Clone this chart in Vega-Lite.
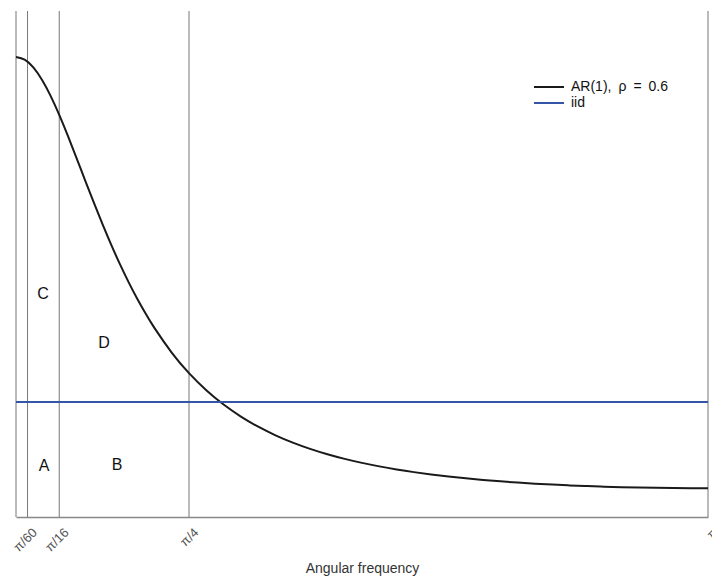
{
  "$schema": "https://vega.github.io/schema/vega-lite/v6.json",
  "width": 692,
  "height": 506,
  "autosize": {"type": "none"},
  "padding": {"left": 16, "top": 11, "right": 4, "bottom": 62},
  "background": "white",
  "config": {
    "view": {"stroke": null},
    "font": "Liberation Sans"
  },
  "datasets": {
    "curve": [
      {"w": 0.0, "v": 6.25, "s": "AR(1), ρ = 0.6"},
      {"w": 0.03927, "v": 6.2141, "s": "AR(1), ρ = 0.6"},
      {"w": 0.07854, "v": 6.1087, "s": "AR(1), ρ = 0.6"},
      {"w": 0.1178, "v": 5.9411, "s": "AR(1), ρ = 0.6"},
      {"w": 0.15708, "v": 5.7217, "s": "AR(1), ρ = 0.6"},
      {"w": 0.19635, "v": 5.4627, "s": "AR(1), ρ = 0.6"},
      {"w": 0.23562, "v": 5.1771, "s": "AR(1), ρ = 0.6"},
      {"w": 0.27489, "v": 4.8768, "s": "AR(1), ρ = 0.6"},
      {"w": 0.31416, "v": 4.5718, "s": "AR(1), ρ = 0.6"},
      {"w": 0.35343, "v": 4.2704, "s": "AR(1), ρ = 0.6"},
      {"w": 0.3927, "v": 3.9786, "s": "AR(1), ρ = 0.6"},
      {"w": 0.43197, "v": 3.7006, "s": "AR(1), ρ = 0.6"},
      {"w": 0.47124, "v": 3.4389, "s": "AR(1), ρ = 0.6"},
      {"w": 0.51051, "v": 3.1949, "s": "AR(1), ρ = 0.6"},
      {"w": 0.54978, "v": 2.9688, "s": "AR(1), ρ = 0.6"},
      {"w": 0.58905, "v": 2.7606, "s": "AR(1), ρ = 0.6"},
      {"w": 0.62832, "v": 2.5695, "s": "AR(1), ρ = 0.6"},
      {"w": 0.70686, "v": 2.2346, "s": "AR(1), ρ = 0.6"},
      {"w": 0.7854, "v": 1.9551, "s": "AR(1), ρ = 0.6"},
      {"w": 0.86394, "v": 1.7222, "s": "AR(1), ρ = 0.6"},
      {"w": 0.94248, "v": 1.5275, "s": "AR(1), ρ = 0.6"},
      {"w": 1.02102, "v": 1.3643, "s": "AR(1), ρ = 0.6"},
      {"w": 1.09956, "v": 1.2267, "s": "AR(1), ρ = 0.6"},
      {"w": 1.1781, "v": 1.1101, "s": "AR(1), ρ = 0.6"},
      {"w": 1.25664, "v": 1.0109, "s": "AR(1), ρ = 0.6"},
      {"w": 1.33518, "v": 0.926, "s": "AR(1), ρ = 0.6"},
      {"w": 1.41372, "v": 0.853, "s": "AR(1), ρ = 0.6"},
      {"w": 1.49226, "v": 0.79, "s": "AR(1), ρ = 0.6"},
      {"w": 1.5708, "v": 0.7353, "s": "AR(1), ρ = 0.6"},
      {"w": 1.64934, "v": 0.6877, "s": "AR(1), ρ = 0.6"},
      {"w": 1.72788, "v": 0.6461, "s": "AR(1), ρ = 0.6"},
      {"w": 1.80642, "v": 0.6097, "s": "AR(1), ρ = 0.6"},
      {"w": 1.88496, "v": 0.5778, "s": "AR(1), ρ = 0.6"},
      {"w": 1.9635, "v": 0.5497, "s": "AR(1), ρ = 0.6"},
      {"w": 2.04204, "v": 0.525, "s": "AR(1), ρ = 0.6"},
      {"w": 2.12058, "v": 0.5033, "s": "AR(1), ρ = 0.6"},
      {"w": 2.19911, "v": 0.4842, "s": "AR(1), ρ = 0.6"},
      {"w": 2.27765, "v": 0.4674, "s": "AR(1), ρ = 0.6"},
      {"w": 2.35619, "v": 0.4528, "s": "AR(1), ρ = 0.6"},
      {"w": 2.43473, "v": 0.44, "s": "AR(1), ρ = 0.6"},
      {"w": 2.51327, "v": 0.429, "s": "AR(1), ρ = 0.6"},
      {"w": 2.59181, "v": 0.4196, "s": "AR(1), ρ = 0.6"},
      {"w": 2.67035, "v": 0.4117, "s": "AR(1), ρ = 0.6"},
      {"w": 2.74889, "v": 0.4051, "s": "AR(1), ρ = 0.6"},
      {"w": 2.82743, "v": 0.3998, "s": "AR(1), ρ = 0.6"},
      {"w": 2.90597, "v": 0.3958, "s": "AR(1), ρ = 0.6"},
      {"w": 2.98451, "v": 0.3929, "s": "AR(1), ρ = 0.6"},
      {"w": 3.06305, "v": 0.3912, "s": "AR(1), ρ = 0.6"},
      {"w": 3.14159, "v": 0.3906, "s": "AR(1), ρ = 0.6"},
      {"w": 0.0, "v": 1.5625, "s": "iid"},
      {"w": 3.14159, "v": 1.5625, "s": "iid"}
    ],
    "vlines": [
      {"w": 0.0},
      {"w": 0.0523599},
      {"w": 0.1963495},
      {"w": 0.7853982},
      {"w": 3.1415927}
    ],
    "labels": [
      {"w": 0.1226, "v": 3.03, "t": "C"},
      {"w": 0.3995, "v": 2.36, "t": "D"},
      {"w": 0.127, "v": 0.69, "t": "A"},
      {"w": 0.4585, "v": 0.71, "t": "B"}
    ]
  },
  "encoding": {},
  "layer": [
    {
      "data": {"name": "vlines"},
      "mark": {"type": "rule", "color": "#777777", "strokeWidth": 1},
      "encoding": {
        "x": {"field": "w", "type": "quantitative", "scale": {"domain": [0, 3.1415927], "nice": false, "zero": false}}
      }
    },
    {
      "data": {"name": "curve"},
      "mark": {"type": "line", "strokeWidth": 2, "interpolate": "natural"},
      "encoding": {
        "x": {
          "field": "w",
          "type": "quantitative",
          "scale": {"domain": [0, 3.1415927], "nice": false, "zero": false},
          "axis": {
            "title": "Angular frequency",
            "titleFont": "Liberation Sans",
            "titleFontSize": 14,
            "titleFontWeight": "normal",
            "titleColor": "#333333",
            "titlePadding": 7,
            "values": [0.0523599, 0.1963495, 0.7853982, 3.1415927],
            "labelExpr": "datum.value < 0.1 ? 'π/60' : datum.value < 0.5 ? 'π/16' : datum.value < 1 ? 'π/4' : 'π'",
            "labelAngle": -45,
            "labelAlign": "right",
            "labelBaseline": "middle",
            "labelFontSize": 13,
            "labelColor": "#555555",
            "labelPadding": 13,
            "labelOffset": 7,
            "labelOverlap": false,
            "labelBound": false,
            "labelFlush": false,
            "grid": false,
            "domainColor": "#888888",
            "domainWidth": 1.5,
            "tickColor": "#777777",
            "tickSize": 0
          }
        },
        "y": {
          "field": "v",
          "type": "quantitative",
          "scale": {"domain": [0, 6.875], "nice": false},
          "axis": null
        },
        "color": {
          "field": "s",
          "type": "nominal",
          "scale": {"domain": ["AR(1), ρ = 0.6", "iid"], "range": ["#1a1a1a", "#3556a6"]},
          "legend": {
            "title": null,
            "orient": "none",
            "legendX": 516,
            "legendY": 69,
            "symbolType": "M-1,0L5,0",
            "symbolSize": 100,
            "symbolStrokeWidth": 2,
            "labelFontSize": 14,
            "labelFont": "Liberation Sans",
            "labelColor": "#111111",
            "labelOffset": 25,
            "labelExpr": "datum.label == 'iid' ? 'iid' : 'AR(1),\u2002ρ\u2002=\u20020.6'",
            "rowPadding": 2,
            "padding": 0
          }
        }
      }
    },
    {
      "data": {"name": "labels"},
      "mark": {"type": "text", "fontSize": 16, "font": "Liberation Sans", "color": "#111111", "align": "center", "baseline": "middle"},
      "encoding": {
        "x": {"field": "w", "type": "quantitative"},
        "y": {"field": "v", "type": "quantitative"},
        "text": {"field": "t"}
      }
    }
  ]
}
